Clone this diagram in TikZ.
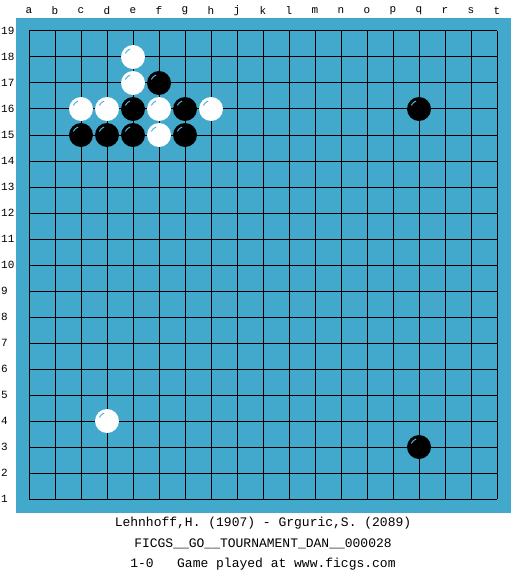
\documentclass[tikz,border=0pt]{standalone}
\usepackage{fontspec}
\setmonofont{Liberation Mono}
\definecolor{boardblue}{RGB}{66,169,204}
\definecolor{shine}{RGB}{80,180,220}
\tikzset{
  coordlabel/.style={font=\fontsize{11}{13}\selectfont\ttfamily, inner sep=0pt},
  infoline/.style={font=\fontsize{13}{15}\selectfont\ttfamily, inner sep=0pt},
  whitestone/.style={circle, fill=white, minimum size=24pt, inner sep=0pt},
  blackstone/.style={circle, fill=black, minimum size=24pt, inner sep=0pt},
}
% board point -> picture coordinate
\newcommand{\gopoint}[2]{({29+26*#1}, {31+26*(19-#2)})}
\begin{document}
\begin{tikzpicture}[x=1pt, y=-1pt]
        \useasboundingbox (0,0) rectangle (525,575);
        \fill[boardblue] (16,18) rectangle (511,513);

        % grid
        \foreach \i in {0,...,18} {
          \draw[line width=1pt] (29+26*\i, 31) -- (29+26*\i, 499);
          \draw[line width=1pt] (29, 31+26*\i) -- (497, 31+26*\i);
        }

        % column letters and row numbers
        \foreach \c [count=\i from 0] in {a,b,c,d,e,f,g,h,j,k,l,m,n,o,p,q,r,s,t}
          \node[coordlabel] (col\c) at (29+26*\i, 11) {\c};
        \foreach \r in {1,...,19}
          \node[coordlabel, anchor=west] (row\r) at (1, 31+26*19-26*\r) {\r};

        % stones
        \foreach \x/\y [count=\k] in {4/18, 4/17, 2/16, 3/16, 5/16, 7/16, 5/15, 3/4} {
          \node[whitestone] (w\k) at \gopoint{\x}{\y} {};
          \draw[shine, line width=1pt] (w\k.center) ++(205:8.5) arc (205:250:8.5);
        }
        \foreach \x/\y [count=\k] in {5/17, 4/16, 6/16, 15/16, 2/15, 3/15, 4/15, 6/15, 15/3} {
          \node[blackstone] (b\k) at \gopoint{\x}{\y} {};
          \draw[shine, line width=1pt] (b\k.center) ++(205:8.5) arc (205:250:8.5);
        }

        % game info
        \node[infoline] (players) at (263, 523)   {Lehnhoff,H. (1907) - Grguric,S. (2089)};
        \node[infoline] (event)   at (263, 543.5) {FICGS\_\_GO\_\_TOURNAMENT\_DAN\_\_000028};
        \node[infoline] (result)  at (263, 564)   {1-0\ \ \ Game played at www.ficgs.com};
      \end{tikzpicture}
\end{document}
